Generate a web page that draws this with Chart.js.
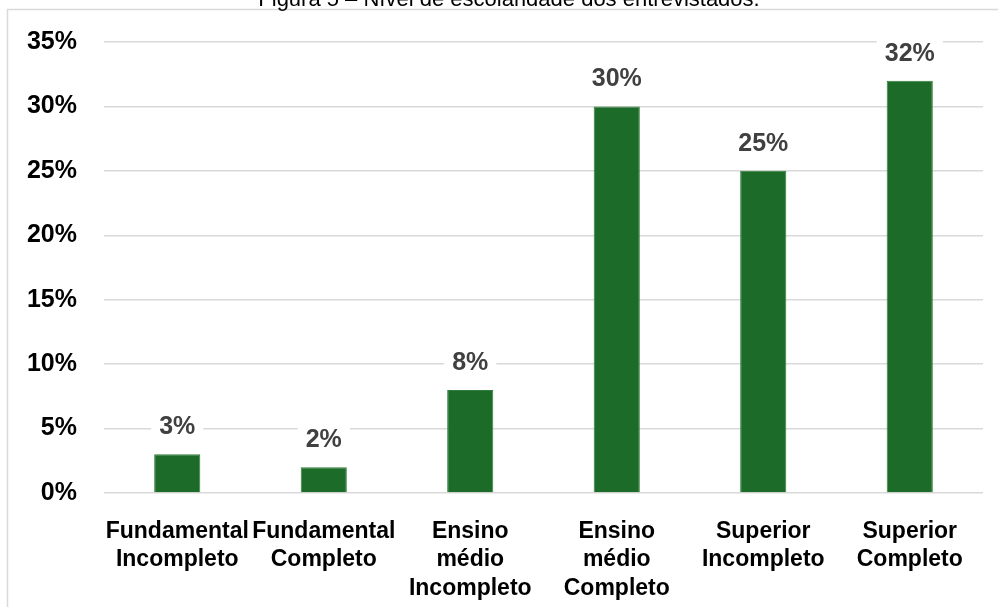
<!DOCTYPE html>
<html>
<head>
<meta charset="utf-8">
<script src="https://cdn.jsdelivr.net/npm/chart.js@4"></script>
<style>
  html, body { margin: 0; padding: 0; background: #ffffff; }
  #wrap { width: 998px; height: 607px; position: relative; }
</style>
</head>
<body>
<div id="wrap"><canvas id="bar-Chart" width="998" height="607"></canvas></div>
<script>
// -------------------- DATA --------------------
const titleText = "Figura 5 – Nível de escolaridade dos entrevistados.";
const categories = [
  ["Fundamental", "Incompleto"],
  ["Fundamental", "Completo"],
  ["Ensino", "médio", "Incompleto"],
  ["Ensino", "médio", "Completo"],
  ["Superior", "Incompleto"],
  ["Superior", "Completo"],
];
const values = [3, 2, 8, 30, 25, 32]; // percent
const yTicks = [0, 5, 10, 15, 20, 25, 30, 35];

const FONT = "'Liberation Sans', Arial, sans-serif";

// frame + cut-off caption at the top
const framePlugin = {
  id: "frame",
  beforeDraw(chart) {
    const c = chart.ctx;
    c.save();
    c.strokeStyle = "#d9d9d9";
    c.lineWidth = 1.5;
    c.beginPath();
    c.moveTo(7.5, 607);
    c.lineTo(7.5, 9.5);
    c.lineTo(998, 9.5);
    c.stroke();
    c.fillStyle = "#000000";
    c.font = "22px " + FONT;
    c.textAlign = "center";
    c.textBaseline = "alphabetic";
    c.fillText(titleText, 509, 6);
    c.restore();
  },
};

// value labels above bars, with white box behind
const valueLabels = {
  id: "valueLabels",
  afterDatasetsDraw(chart) {
    const c = chart.ctx;
    const meta = chart.getDatasetMeta(0);
    c.save();
    c.font = "bold 25px " + FONT;
    c.textAlign = "center";
    c.textBaseline = "middle";
    meta.data.forEach((bar, i) => {
      const txt = values[i] + "%";
      const y = bar.y - 28;
      const w = c.measureText(txt).width + 16;
      c.fillStyle = "#ffffff";
      c.fillRect(bar.x - w / 2, y - 13, w, 26);
      c.fillStyle = "#404040";
      c.fillText(txt, bar.x, y + 1);
    });
    c.restore();
  },
};

const ctx = document.getElementById("bar-Chart");
new Chart(ctx, {
  type: "bar",
  data: {
    labels: categories,
    datasets: [
      {
        data: values,
        backgroundColor: "#1c6b28",
        borderColor: "#2f7d3a",
        borderWidth: 1,
        barPercentage: 0.315,
        categoryPercentage: 1,
      },
    ],
  },
  options: {
    responsive: false,
    animation: false,
    layout: { padding: { left: 7, right: 15, top: 39, bottom: 0 } },
    plugins: {
      legend: { display: false },
      tooltip: { enabled: false },
    },
    scales: {
      x: {
        grid: { display: false },
        border: { display: false },
        ticks: {
          color: "#000000",
          font: { family: FONT, size: 23, weight: "bold", lineHeight: 1.25 },
          padding: 16,
          maxRotation: 0,
          autoSkip: false,
        },
        afterFit: (s) => { s.height = 114; },
      },
      y: {
        min: 0,
        max: 35,
        afterBuildTicks: (s) => { s.ticks = yTicks.map((v) => ({ value: v })); },
        grid: { color: "#d9d9d9", lineWidth: 1.5, drawTicks: false },
        border: { display: false },
        ticks: {
          color: "#000000",
          font: { family: FONT, size: 25, weight: "bold" },
          padding: 27,
          callback: (v) => v + "%",
        },
        afterFit: (s) => { s.width = 97; },
      },
    },
  },
  plugins: [framePlugin, valueLabels],
});
</script>
</body>
</html>
